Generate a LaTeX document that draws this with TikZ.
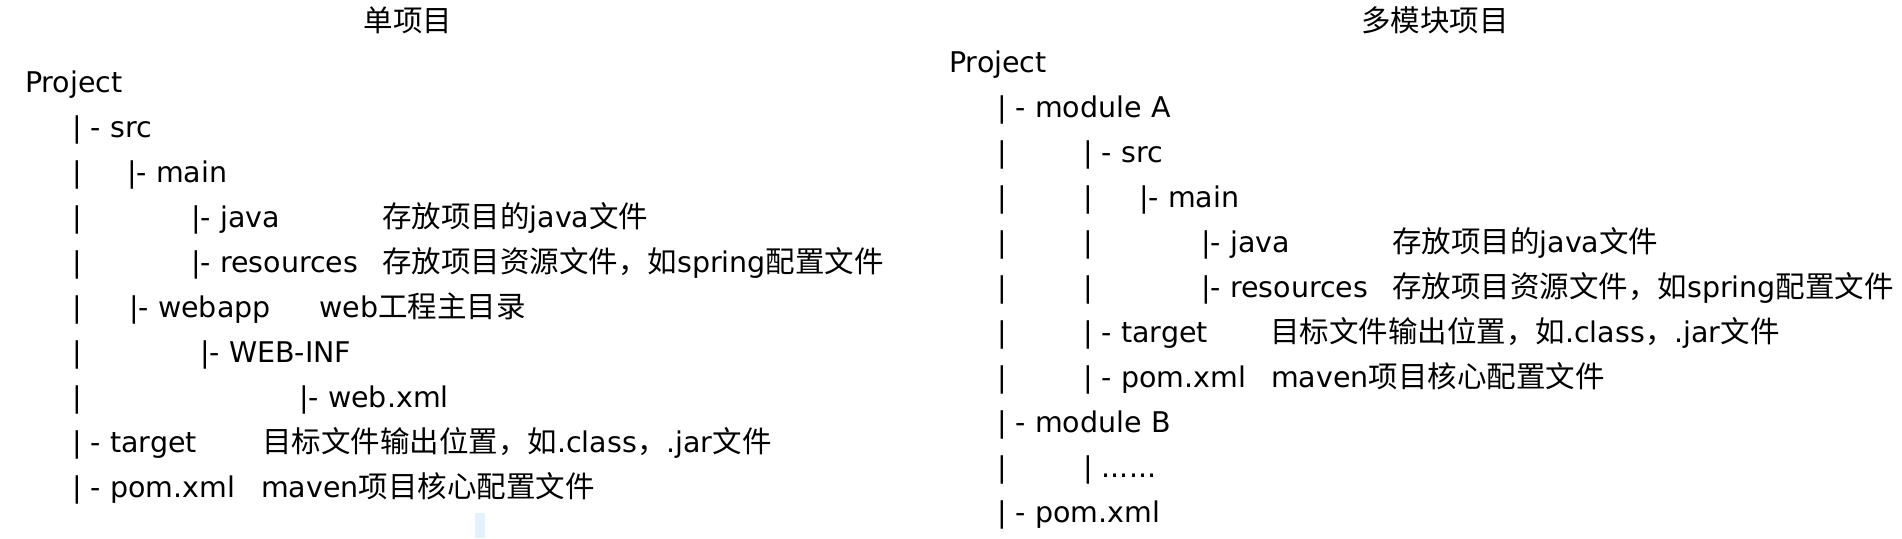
\documentclass[tikz,border=0pt]{standalone}
\usepackage{fontspec}
\setmainfont{DejaVu Sans}
\newfontfamily\cjkfam{Noto Sans CJK SC}
\newcommand\cjk{\fontsize{29.5}{34}\selectfont\cjkfam}
\definecolor{artifact}{HTML}{E3F1FB}
\begin{document}
\begin{tikzpicture}[x=1pt,y=-1pt,
  t/.style={anchor=base west,inner sep=0pt,font=\fontsize{28.5}{34}\selectfont},
  ttl/.style={anchor=base,inner sep=0pt,font=\cjk}]
\useasboundingbox (0,0) rectangle (1902,538);
\fill[white] (0,0) rectangle (1902,538);
\fill[artifact] (475,513) rectangle (485,538);
% ---------- left: single project ----------
\node[ttl] (ltitle) at (408,31) {单项目};
\node[t] (lproj) at (25,92) {Project};
\node[t] (lsrc) at (72,137) {| - src};
\node[t] (lb2) at (72,182) {|};
\node[t] (lmain) at (127,182) {|- main};
\node[t] (lb3) at (72,227) {|};
\node[t] (ljava) at (191,227) {|- java};
\node[t] (ljavad) at (382,227) {{\cjk 存放项目的}java{\cjk 文件}};
\node[t] (lb4) at (72,272) {|};
\node[t] (lres) at (191,272) {|- resources};
\node[t] (lresd) at (382,272) {{\cjk 存放项目资源文件，如}spring{\cjk 配置文件}};
\node[t] (lb5) at (72,317) {|};
\node[t] (lweb) at (129,317) {|- webapp};
\node[t] (lwebd) at (319,317) {web{\cjk 工程主目录}};
\node[t] (lb6) at (72,362) {|};
\node[t] (linf) at (200,362) {|- WEB-INF};
\node[t] (lb7) at (72,407) {|};
\node[t] (lxml) at (299,407) {|- web.xml};
\node[t] (ltgt) at (72,452) {| - target};
\node[t] (ltgtd) at (262,452) {{\cjk 目标文件输出位置，如}.class{\cjk ，}.jar{\cjk 文件}};
\node[t] (lpom) at (72,497) {| - pom.xml};
\node[t] (lpomd) at (261,497) {maven{\cjk 项目核心配置文件}};
% ---------- right: multi-module project ----------
\node[ttl] (rtitle) at (1435,31) {多模块项目};
\node[t] (rproj) at (949,72) {Project};
\node[t] (rmoda) at (997,117) {| - module A};
\node[t] (rb2a) at (997,162) {|};
\node[t] (rsrc) at (1083,162) {| - src};
\node[t] (rb3a) at (997,207) {|};
\node[t] (rb3b) at (1083,207) {|};
\node[t] (rmain) at (1139,207) {|- main};
\node[t] (rb4a) at (997,252) {|};
\node[t] (rb4b) at (1083,252) {|};
\node[t] (rjava) at (1201,252) {|- java};
\node[t] (rjavad) at (1392,252) {{\cjk 存放项目的}java{\cjk 文件}};
\node[t] (rb5a) at (997,297) {|};
\node[t] (rb5b) at (1083,297) {|};
\node[t] (rres) at (1201,297) {|- resources};
\node[t] (rresd) at (1392,297) {{\cjk 存放项目资源文件，如}spring{\cjk 配置文件}};
\node[t] (rb6a) at (997,342) {|};
\node[t] (rtgt) at (1083,342) {| - target};
\node[t] (rtgtd) at (1270,342) {{\cjk 目标文件输出位置，如}.class{\cjk ，}.jar{\cjk 文件}};
\node[t] (rb7a) at (997,387) {|};
\node[t] (rpom) at (1083,387) {| - pom.xml};
\node[t] (rpomd) at (1271,387) {maven{\cjk 项目核心配置文件}};
\node[t] (rmodb) at (997,432) {| - module B};
\node[t] (rb9a) at (997,477) {|};
\node[t] (rdots) at (1083,477) {| ......};
\node[t] (rpomx) at (997,522) {| - pom.xml};
\end{tikzpicture}
\end{document}
